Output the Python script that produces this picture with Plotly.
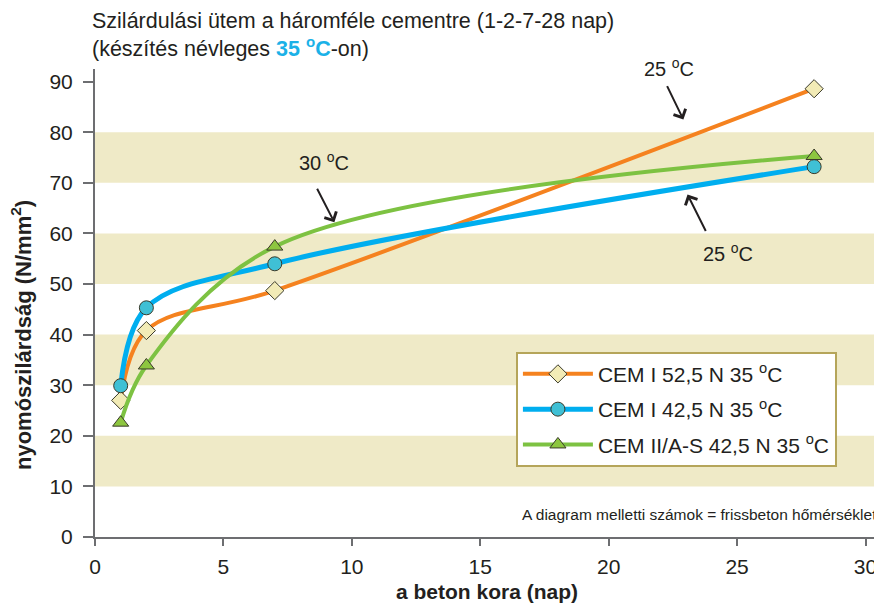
import plotly.graph_objects as go

days = [1, 2, 7, 28]
cem1_525 = [27.0, 40.8, 48.7, 88.6]
cem1_425 = [29.9, 45.3, 54.0, 73.2]
cem2_425 = [22.6, 33.9, 57.4, 75.3]
series_names = ["CEM I 52,5 N 35 <sup>o</sup>C", "CEM I 42,5 N 35 <sup>o</sup>C",
                "CEM II/A-S 42,5 N 35 <sup>o</sup>C"]
x_ticks = [0, 5, 10, 15, 20, 25, 30]
y_ticks = [0, 10, 20, 30, 40, 50, 60, 70, 80, 90]
bands = [(10, 20), (30, 40), (50, 60), (70, 80)]

FONT = "Liberation Sans, Arial, sans-serif"
TXT = "#231F20"
AX = "#6D6E71"

fig = go.Figure()
styles = [
    dict(color="#F5821F", width=4, symbol="diamond", mfill="#F2EBB6", msize=14),
    dict(color="#00AEEF", width=5, symbol="circle", mfill="#3FC0D5", msize=14),
    dict(color="#7DC242", width=4, symbol="triangle-up", mfill="#8DC63F", msize=14),
]
for i, (name, vals, st) in enumerate(zip(series_names, [cem1_525, cem1_425, cem2_425], styles)):
    fig.add_trace(go.Scatter(
        x=days, y=vals, name=name, mode="lines+markers", legendgroup=f"g{i}",
        line=dict(color=st["color"], width=st["width"], shape="spline", smoothing=1.0),
        marker=dict(symbol=st["symbol"], size=st["msize"], color=st["mfill"],
                    line=dict(color="#3A3A2A", width=1)),
        cliponaxis=False,
    ))

shapes = []
for y0, y1 in bands:
    shapes.append(dict(type="rect", xref="paper", yref="y", x0=0, x1=1.01, y0=y0, y1=y1,
                       fillcolor="#EFEAC7", line=dict(width=0), layer="below"))

annotations = []
arrows = [  # head x, head y, tail offset ax, ay (px)
    (22.91, 82.5, -17, -35),
    (23.07, 67.7, 19, 38),
    (9.32, 62.2, -18, -35),
]
for hx, hy, ax, ay in arrows:
    annotations.append(dict(x=hx, y=hy, xref="x", yref="y", ax=ax, ay=ay, text="",
                            showarrow=True, arrowhead=4, arrowsize=1.3, arrowwidth=2,
                            arrowcolor=TXT))
labels = [(0.7353, 1.0028, "25 <sup>o</sup>C"), (0.812, 0.6075, "25 <sup>o</sup>C"),
          (0.2941, 0.8019, "30 <sup>o</sup>C")]
for lx, ly, t in labels:
    annotations.append(dict(x=lx, y=ly, xref="paper", yref="paper", text=t, showarrow=False,
                            xanchor="center", yanchor="middle",
                            font=dict(size=20, color=TXT, family=FONT)))
annotations.append(dict(x=1.0045, y=0.0476, xref="paper", yref="paper", xanchor="right",
                        yanchor="middle",
                        text="A diagram melletti számok = frissbeton hőmérséklet",
                        showarrow=False, font=dict(size=15.5, color=TXT, family=FONT)))
# title (two lines)
annotations.append(dict(x=-0.0064, y=1.0722, xref="paper", yref="paper", xanchor="left",
                        yanchor="middle", showarrow=False, align="left",
                        text="Szilárdulási ütem a háromféle cementre (1-2-7-28 nap)<br>"
                             "(készítés névleges <b><span style='color:#1BB1E7'>35 <sup>o</sup>C</span></b>-on)",
                        font=dict(size=21.5, color=TXT, family=FONT)))
# axis titles
annotations.append(dict(x=0.502, y=-0.117, xref="paper", yref="paper", xanchor="center",
                        yanchor="middle", showarrow=False,
                        text="<b>a beton kora (nap)</b>",
                        font=dict(size=21, color=TXT, family=FONT)))
annotations.append(dict(x=-0.0946, y=0.432, xref="paper", yref="paper", xanchor="center",
                        yanchor="middle", showarrow=False, textangle=-90,
                        text="<b>nyomószilárdság (N/mm<sup>2</sup>)</b>",
                        font=dict(size=22, color=TXT, family=FONT)))

fig.update_layout(
    width=874, height=596,
    margin=dict(l=87, r=5, t=61, b=67),
    paper_bgcolor="white", plot_bgcolor="white",
    font=dict(family=FONT, color=TXT, size=21),
    xaxis=dict(range=[0, 30.37], tickvals=x_ticks, ticks="outside", ticklen=7, tickwidth=2,
               tickcolor=AX, showline=True, linecolor=AX, linewidth=2, ticklabelstandoff=3,
               showgrid=False, zeroline=False, tickfont=dict(size=21, color=TXT)),
    yaxis=dict(range=[0, 92.5], tickvals=y_ticks, ticks="outside", ticklen=10, tickwidth=2,
               tickcolor=AX, showline=True, linecolor=AX, linewidth=2, ticklabelstandoff=6,
               showgrid=False, zeroline=False, tickfont=dict(size=21, color=TXT)),
    legend=dict(x=(517 - 95) / 782, y=(537.3 - 352) / 468, xanchor="left", yanchor="top",
                bgcolor="white", bordercolor="#B5A55A", borderwidth=2,
                font=dict(size=21, color=TXT, family=FONT), itemwidth=70,
                tracegroupgap=5),
    shapes=shapes, annotations=annotations,
    showlegend=True,
)
fig.write_html("out.html")
